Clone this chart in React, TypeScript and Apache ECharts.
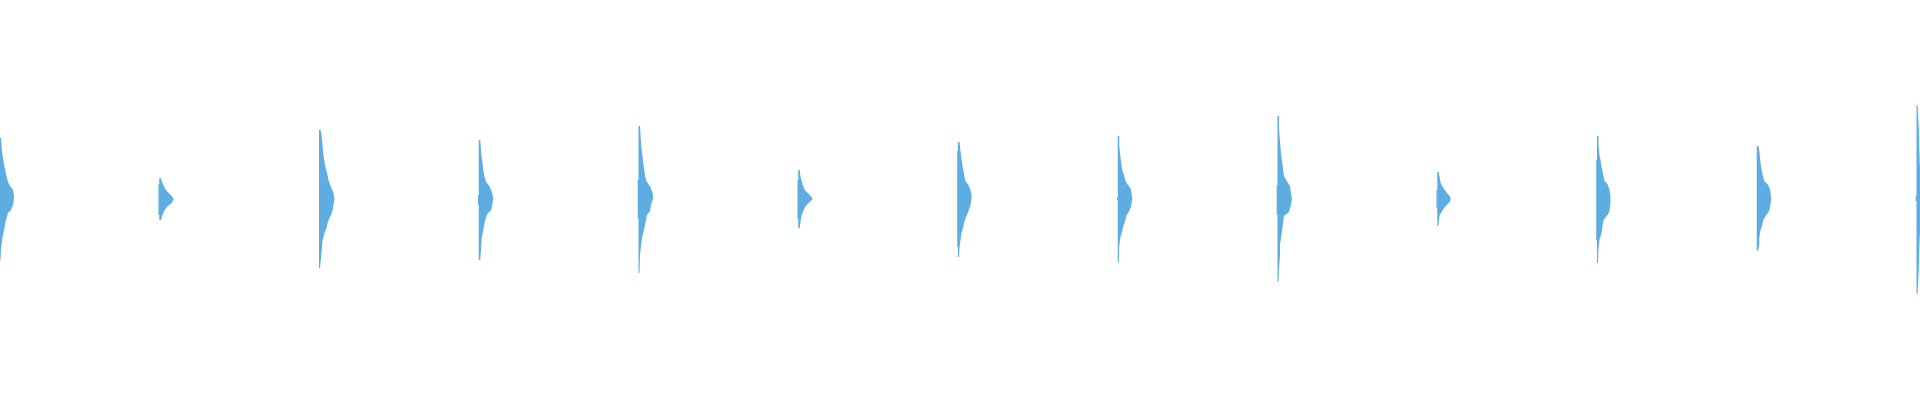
import React, { useEffect, useRef } from "react";
import * as echarts from "echarts";

// 13 distributions, placed at evenly spaced positions along the x axis
const categories = ["1", "2", "3", "4", "5", "6", "7", "8", "9", "10", "11", "12", "13"];

// Each profile: [offset above the centre line, half-violin width] read from top to bottom
const profile0 = [[61, 1], [48, 2], [41, 3], [35, 4], [30, 5], [25, 6], [21, 7], [17, 8], [13, 10], [9, 13], [3, 14], [0, 14], [-6, 13], [-11, 11], [-14, 8], [-21, 6], [-26, 5], [-31, 4], [-36, 3], [-42, 2], [-50, 1], [-61, 0.5]];
const profile1 = [[21, 1], [15, 3], [11, 5], [8, 7], [5, 10], [3, 12], [0, 14], [-4, 12], [-7, 8], [-11, 5], [-15, 3], [-19, 2], [-21, 1]];
const profile2 = [[69, 1], [64, 2], [54, 3], [43, 4], [37, 5], [32, 6], [24, 8], [19, 9], [16, 10], [11, 12], [6, 14], [0, 15], [-6, 14], [-11, 13], [-15, 12], [-19, 10], [-24, 8], [-29, 7], [-34, 5], [-42, 3], [-54, 2], [-64, 1], [-69, 0.5]];
const profile3 = [[59, 1], [46, 2], [38, 3], [29, 4], [23, 5], [17, 7], [13, 10], [9, 12], [6, 13], [0, 14], [-6, 13], [-11, 12], [-15, 8], [-21, 6], [-26, 5], [-31, 4], [-39, 2.5], [-47, 2], [-61, 1]];
const profile4 = [[73, 1], [56, 2], [46, 3], [39, 4], [31, 5], [24, 6], [19, 7], [14, 10], [11, 12], [4, 14], [0, 14], [-6, 12], [-12, 11], [-16, 8], [-21, 7], [-26, 6], [-31, 5], [-39, 3], [-47, 2], [-56, 1], [-74, 0.5]];
const profile5 = [[29, 1], [24, 1.5], [19, 2.5], [14, 4], [9, 6], [6, 9], [3, 12], [0, 14], [-3, 11], [-7, 7], [-11, 5], [-16, 3], [-21, 2], [-29, 1]];
const profile6 = [[57, 1], [48, 2], [40, 3], [33, 4], [28, 5], [22, 6], [18, 7], [14, 10], [9, 12], [4, 13], [0, 13], [-6, 12], [-12, 10], [-17, 8], [-22, 6], [-27, 5], [-34, 3], [-41, 2], [-48, 1], [-58, 0.5]];
const profile7 = [[63, 1], [53, 1], [44, 2], [36, 3], [29, 4], [23, 6], [19, 7], [15, 9], [11, 12], [8, 13], [0, 14], [-7, 13], [-12, 11], [-17, 8], [-22, 7], [-27, 5], [-32, 4], [-39, 2], [-47, 1], [-63, 0.5]];
const profile8 = [[83, 1], [69, 1], [58, 2], [46, 3], [38, 4], [31, 5], [23, 6], [16, 10], [13, 12], [6, 13], [0, 14], [-6, 13], [-13, 11], [-17, 6], [-24, 5], [-32, 4], [-39, 3], [-46, 2], [-57, 2], [-69, 1], [-83, 0.5]];
const profile9 = [[27, 1], [21, 2], [16, 3], [12, 5], [9, 7], [5, 10], [3, 12], [0, 13], [-3, 12], [-7, 8], [-11, 5], [-16, 2], [-22, 1], [-27, 0.5]];
const profile10 = [[63, 1], [53, 1], [44, 2], [39, 3], [33, 4], [28, 5], [23, 6], [18, 7], [15, 10], [9, 12], [3, 13], [0, 13], [-4, 13], [-12, 12], [-16, 10], [-21, 6], [-27, 5], [-34, 4], [-41, 2], [-49, 1], [-64, 0.5]];
const profile11 = [[53, 1], [49, 2], [39, 3], [31, 4], [26, 5], [22, 6], [18, 7], [14, 11], [9, 13], [0, 14], [-7, 13], [-12, 12], [-16, 9], [-21, 6], [-26, 5], [-32, 3], [-39, 2], [-47, 2], [-52, 0.5]];
const profile12 = [[94, 0.5], [73, 1.7], [50, 2.3], [30, 3], [20, 6], [13, 10], [6, 13], [0, 14], [-8, 12], [-15, 9], [-22, 5], [-31, 3], [-50, 2.3], [-72, 1.7], [-95, 0.5]];

const profiles = [profile0, profile1, profile2, profile3, profile4, profile5, profile6, profile7, profile8, profile9, profile10, profile11, profile12];

// small band drawn just left of each baseline: [top offset, bottom offset]
const leftNubs = [null, [15, -16], null, [4, -6], [19, -19], [19, -20], [48, -48], [1, -1], [14, -16], [9, -9], [39, -41], null, [3, -2]];

const WIDTH_UNITS_PER_STEP = 160;
const NUB_WIDTH = 1.3;
const COLOR = "#5dade2";

function renderItem(params: any, api: any) {
  const i = api.value(0);
  const prof = profiles[i];
  const base = api.coord([i, 0]);
  const unit = api.size([1, 0])[0] / WIDTH_UNITS_PER_STEP;
  const x0 = base[0];
  const pts: number[][] = [];
  pts.push([x0 - 0.5, api.coord([i, prof[0][0]])[1]]);
  for (const [off, w] of prof) {
    const y = api.coord([i, off])[1];
    pts.push([x0 + w * unit, y]);
  }
  pts.push([x0 - 0.5, api.coord([i, prof[prof.length - 1][0]])[1]]);
  const children: any[] = [
    { type: "polygon", shape: { points: pts }, style: { fill: COLOR, stroke: null } },
  ];
  const nub = leftNubs[i];
  if (nub) {
    const yt = api.coord([i, nub[0]])[1];
    const yb = api.coord([i, nub[1]])[1];
    children.push({
      type: "rect",
      shape: { x: x0 - NUB_WIDTH * unit, y: yt, width: NUB_WIDTH * unit, height: yb - yt },
      style: { fill: COLOR },
    });
  }
  return { type: "group", children };
}

export default function App() {
  const ref = useRef<HTMLDivElement>(null);
  useEffect(() => {
    if (!ref.current) return;
    const chart = echarts.init(ref.current, null, { renderer: "svg" });
    chart.setOption({
      animation: false,
      backgroundColor: "#ffffff",
      grid: { left: 0, right: 3, top: 0, bottom: 0 },
      xAxis: { type: "value", min: 0, max: categories.length - 1, show: false, splitLine: { show: false } },
      yAxis: { type: "value", min: -201, max: 199, show: false, splitLine: { show: false } },
      series: [
        {
          type: "custom",
          renderItem,
          data: categories.map((c, i) => [i, 0]),
        },
      ],
    });
    return () => chart.dispose();
  }, []);
  return (
    <div
      ref={ref}
      style={{ position: "absolute", left: 0, top: 0, width: 1920, height: 400 }}
    />
  );
}
